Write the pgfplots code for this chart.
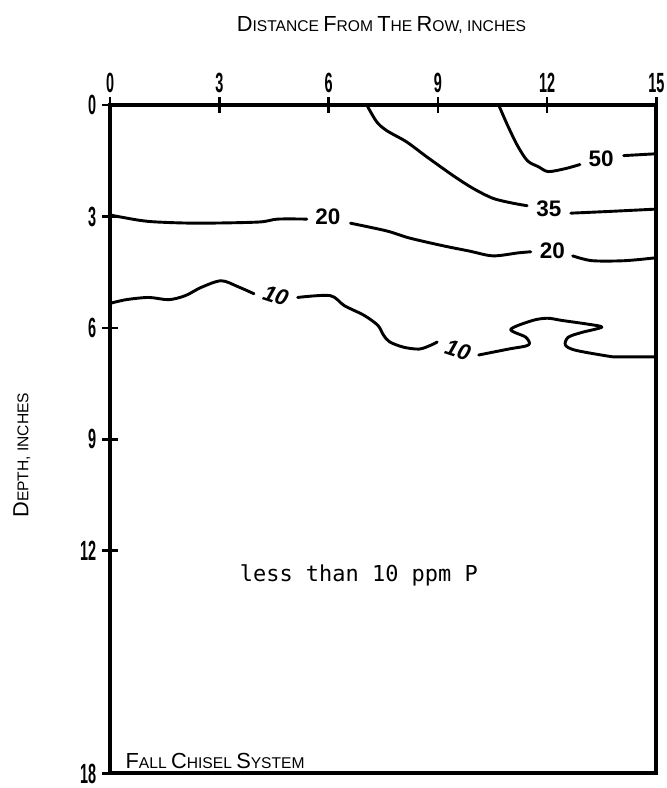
\documentclass[border=0pt]{standalone}
\usepackage{fontspec}
\setmainfont{Liberation Sans}
\newfontfamily\typefont{DejaVu Sans Mono}
\usepackage{graphicx}
\usepackage{pgfplots}
\pgfplotsset{compat=1.18}

% hand-lettered small caps: big initial, small rest
\newcommand\BC[1]{{\fontsize{16.5}{16.5}\selectfont #1}}
\newcommand\smallcaps{\fontsize{11.8}{12}\selectfont}
\newcommand\clabel{\fontsize{17}{17}\selectfont\bfseries}

\begin{document}
\begin{tikzpicture}[contour/.style={black, line width=2.2pt, line cap=round, line join=round, no markers, smooth, tension=0.5}]
\begin{axis}[
  scale only axis,
  width=413.25pt, height=505.5pt,
  xmin=0, xmax=15, ymin=0, ymax=18,
  y dir=reverse,
  xtick={0,3,6,9,12,15},
  ytick={0,3,6,9,12,18},
  xtick pos=right, xticklabel pos=right,
  ytick pos=left,
  tick align=center,
  major tick length=12pt,
  tick style={black, line width=2pt},
  axis line style={line width=3pt},
  /pgf/number format/assume math mode=true,
  ticklabel style={font=\fontsize{21}{21}\selectfont\bfseries},
  yticklabel style={xshift=-1pt},
  xticklabel style={yshift=0pt},
  xticklabel={\scalebox{0.52}[1]{\pgfmathprintnumber{\tick}}},
  yticklabel={\scalebox{0.52}[1]{\pgfmathprintnumber{\tick}}},
  clip=false,
]
% 50 ppm
\addplot[contour] coordinates {(10.67,0) (10.92,0.56) (11.19,1.10) (11.46,1.50) (11.76,1.66) (12.03,1.79) (12.50,1.71) (12.90,1.60)};
\addplot[contour] coordinates {(14.10,1.36) (15,1.31)};
% 35 ppm
\addplot[contour] coordinates {(7.05,0) (7.32,0.45) (7.60,0.69) (8.14,0.99) (8.69,1.39) (9.42,1.90) (9.96,2.24) (10.51,2.51) (11.05,2.64) (11.45,2.71)};
\addplot[contour] coordinates {(12.65,2.91) (13.78,2.86) (15,2.80)};
% 20 ppm
\addplot[contour] coordinates {(0,2.96) (0.79,3.10) (1.33,3.15) (2.42,3.18) (4.06,3.15) (4.60,3.07) (5.40,3.07)};
\addplot[contour] coordinates {(6.60,3.18) (7.60,3.39) (8.22,3.58) (9.15,3.79) (9.86,3.93) (10.51,4.06) (11.20,3.98) (11.55,3.95)};
\addplot[contour] coordinates {(12.70,4.06) (13.23,4.19) (14.13,4.19) (15,4.11)};
% 10 ppm
\addplot[contour] coordinates {(0,5.34) (0.44,5.24) (1.06,5.18) (1.61,5.24) (2.07,5.13) (2.50,4.91) (3.05,4.73) (3.51,4.89) (3.95,5.08)};
\addplot[contour] coordinates {(5.15,5.18) (6.04,5.13) (6.43,5.40) (6.97,5.66) (7.35,5.93) (7.51,6.20) (7.68,6.38) (8.06,6.52) (8.49,6.57) (8.82,6.46) (8.98,6.38)};
\addplot[contour] coordinates {(10.12,6.73) (10.94,6.57) (11.49,6.46) (11.41,6.25) (11.00,6.04) (11.60,5.80) (12.01,5.74) (12.41,5.80) (13.12,5.90) (13.50,5.98) (12.96,6.12) (12.58,6.25) (12.50,6.46) (12.77,6.60) (13.67,6.76) (13.94,6.78) (15,6.78)};

% contour labels
\node[font=\clabel] at (axis cs:13.48,1.44) {50};
\node[font=\clabel] at (axis cs:12.05,2.80) {35};
\node[font=\clabel] at (axis cs:5.98,3.02) {20};
\node[font=\clabel] at (axis cs:12.14,3.93) {20};
\node[font=\clabel, rotate=-18, inner sep=0pt] at (axis cs:4.55,5.13) {\textit{10}};
\node[font=\clabel, rotate=-18, inner sep=0pt] at (axis cs:9.55,6.60) {\textit{10}};

\node[font=\typefont\fontsize{16.6}{17}\selectfont] at (axis cs:6.83,12.66) {less than 10 ppm P};
\node[font=\smallcaps, anchor=base west] at (axis cs:0.30,17.87) {\BC{F}ALL \BC{C}HISEL \BC{S}YSTEM};

% titles
\node[font=\smallcaps] at (axis cs:7.45,-2.15) {\BC{D}ISTANCE \BC{F}ROM \BC{T}HE \BC{R}OW, INCHES};
\node[font=\smallcaps, rotate=90] at (axis cs:-2.42,9.43) {\BC{D}EPTH, INCHES};

\coordinate (bl) at (axis cs:0,18);
\coordinate (tr) at (axis cs:15,0);
\end{axis}
\pgfresetboundingbox
\path ([shift={(-83.25pt,-11pt)}]bl) rectangle ([shift={(7.5pt,79.5pt)}]tr);
\end{tikzpicture}
\end{document}
